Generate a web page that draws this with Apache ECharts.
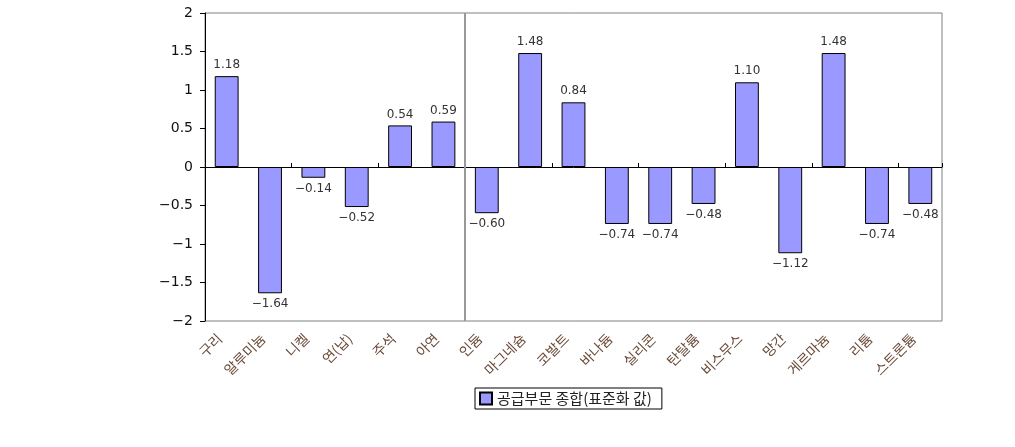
<!DOCTYPE html>
<html><head><meta charset="utf-8">
<script src="https://cdn.jsdelivr.net/npm/echarts@6/dist/echarts.min.js"></script>
<style>html,body{margin:0;padding:0;background:#fff}#c{width:1015px;height:447px}</style>
</head><body><div id="c"></div>
<script>
const categories = ['구리','알루미늄','니켈','연(납)','주석','아연','인듐','마그네슘','코발트','바나듐','실리콘','탄탈륨','비스무스','망간','게르마늄','리튬','스트론튬'];
const values = [1.18,-1.64,-0.14,-0.52,0.54,0.59,-0.60,1.48,0.84,-0.74,-0.74,-0.48,1.10,-1.12,1.48,-0.74,-0.48];
const seriesName = '공급부문 종합(표준화 값)';
const separatorIndex = 6;
const yMin = -2, yMax = 2, yStep = 0.5;

const minus = v => (v < 0 ? '\u2212' : '') + Math.abs(v);
const chart = echarts.init(document.getElementById('c'));
chart.setOption({
  animation: false,
  textStyle: { fontFamily: 'DejaVu Sans' },
  grid: { left: 205, right: 73, top: 13, bottom: 126, show: true, borderColor: '#808080', borderWidth: 1 },
  legend: {
    data: [seriesName], left: 475, top: 388, orient: 'horizontal',
    borderColor: '#000', borderWidth: 1, padding: [3, 10, 3, 4],
    itemWidth: 12, itemHeight: 12, itemGap: 5,
    icon: 'rect',
    textStyle: { fontSize: 15, color: '#222', fontFamily: 'Noto Sans CJK KR' }
  },
  xAxis: [{
    type: 'category', data: categories, position: 'bottom',
    axisLine: { show: false, onZero: false },
    axisTick: { show: false },
    splitLine: { show: false },
    axisLabel: { rotate: 45, margin: 8, fontSize: 14, color: '#6a4a38', fontFamily: 'Noto Sans CJK KR', interval: 0, padding: [0, 10, 0, 0] }
  }, {
    type: 'category', data: categories, position: 'top',
    axisLine: { show: true, onZero: true, lineStyle: { color: '#000', width: 1 } },
    axisTick: { show: true, inside: false, length: 4, lineStyle: { color: '#000' } },
    axisLabel: { show: false }, splitLine: { show: false }
  }, {
    type: 'value', min: 0, max: categories.length, show: false, position: 'bottom'
  }],
  yAxis: {
    type: 'value', min: yMin, max: yMax, interval: yStep,
    axisLine: { show: true, lineStyle: { color: '#000' } },
    axisTick: { show: true, length: 5, lineStyle: { color: '#000' } },
    splitLine: { show: false },
    axisLabel: { margin: 12, fontSize: 14, color: '#111', formatter: minus }
  },
  series: [{
    name: seriesName, type: 'bar', xAxisIndex: 0,
    barCategoryGap: '45%',
    itemStyle: { color: '#9999FF', borderColor: '#000', borderWidth: 1 },
    data: values.map(v => ({
      value: v,
      label: { show: true, position: v < 0 ? 'bottom' : 'top', distance: 5,
        fontSize: 12, color: '#333',
        formatter: p => (p.value < 0 ? '\u2212' : '') + Math.abs(p.value).toFixed(2) }
    }))
  }, {
    type: 'line', xAxisIndex: 2, data: [], silent: true,
    markLine: { symbol: 'none', silent: true, label: { show: false },
      lineStyle: { color: '#999', width: 2, type: 'solid' },
      data: [{ xAxis: separatorIndex }] }
  }]
});
</script></body></html>
